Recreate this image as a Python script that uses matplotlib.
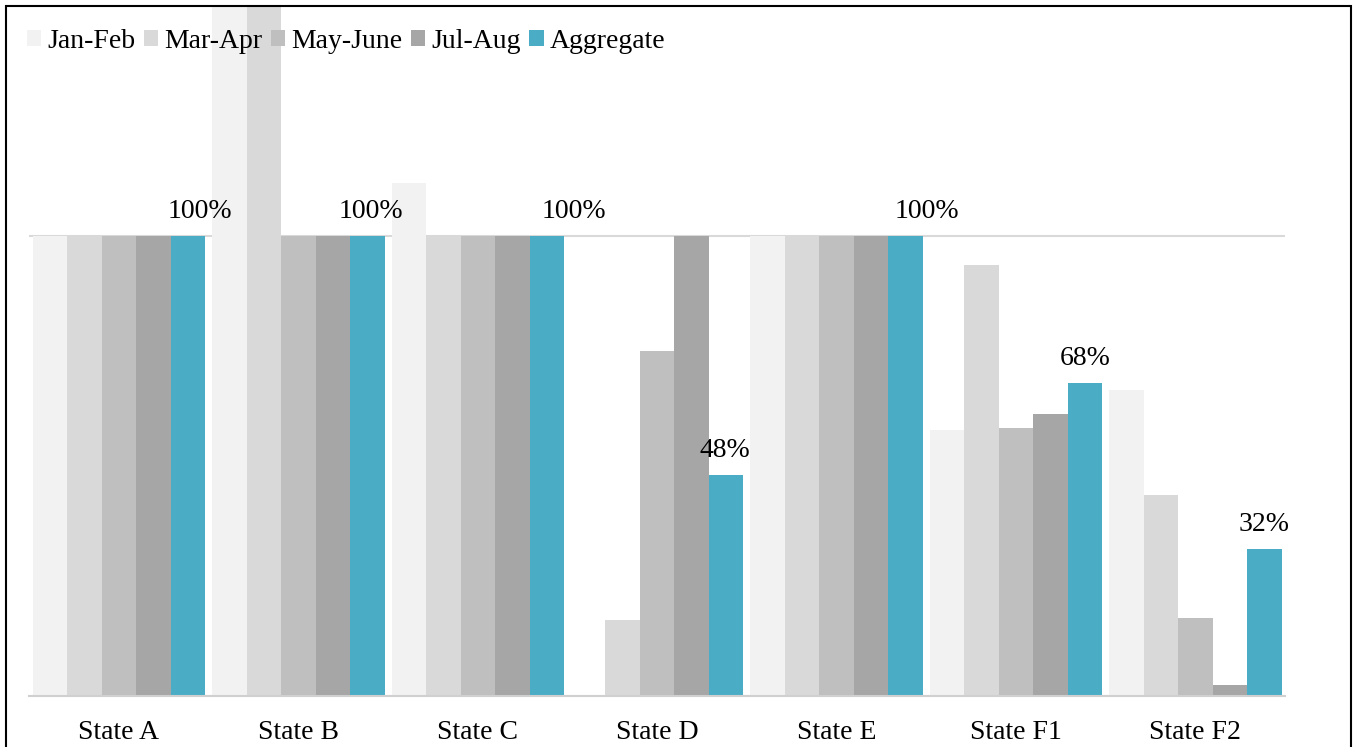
import matplotlib
matplotlib.use("Agg")
import matplotlib.pyplot as plt
from matplotlib.patches import Rectangle, Patch
import numpy as np

# Share of each state's target reached per two-month period
states = ["State A", "State B", "State C", "State D", "State E", "State F1", "State F2"]
periods = ["Jan-Feb", "Mar-Apr", "May-June", "Jul-Aug", "Aggregate"]

jan_feb = [1.00, 1.60, 1.115, 0.00, 1.00, 0.579, 0.665]
mar_apr = [1.00, 1.60, 1.00, 0.165, 1.00, 0.937, 0.436]
may_june = [1.00, 1.00, 1.00, 0.75, 1.00, 0.582, 0.169]
jul_aug = [1.00, 1.00, 1.00, 1.00, 1.00, 0.614, 0.024]
aggregate = [1.00, 1.00, 1.00, 0.48, 1.00, 0.68, 0.32]

series = [jan_feb, mar_apr, may_june, jul_aug, aggregate]
colors = ["#f2f2f2", "#d9d9d9", "#bfbfbf", "#a6a6a6", "#4bacc6"]

# horizontal nudges (pixels) for the aggregate value labels
label_nudge_px = [12, 4, 27, -1, 21, 0, 0]

plt.rcParams["font.family"] = ["Liberation Serif", "DejaVu Serif"]
FS = 20

W, H = 1353, 747
fig = plt.figure(figsize=(W / 100, H / 100), dpi=100)
ax = fig.add_axes([29.3 / W, 1 - 696 / H, 1255.8 / W, 690 / H])

x = np.arange(len(states))
bw = 0.1923
for i, (vals, col, name) in enumerate(zip(series, colors, periods)):
    ax.bar(x + (i - 2) * bw, vals, width=bw, color=col, edgecolor="none",
           label=name, zorder=2)

# value labels above the aggregate bars
for xi, v, dx in zip(x, aggregate, label_nudge_px):
    ax.annotate(f"{v:.0%}", xy=(xi + 2 * bw, v), xytext=(dx, 18),
                textcoords="offset pixels", ha="center", va="baseline",
                fontsize=FS, color="black")

ax.set_xlim(-0.5, len(states) - 0.5)
ax.set_ylim(0, 1.5)
ax.set_xticks(x)
ax.set_xticklabels(states, fontsize=FS)
ax.set_yticks([0, 1])
ax.set_yticklabels([])
ax.tick_params(axis="both", length=0)
ax.tick_params(axis="x", pad=17)
ax.yaxis.grid(True, color="#d9d9d9", linewidth=1.5, zorder=0)
ax.set_axisbelow(True)
for side in ["left", "right", "top"]:
    ax.spines[side].set_visible(False)
ax.spines["bottom"].set_color("#d0d0d0")
ax.spines["bottom"].set_linewidth(1.5)

handles = [Patch(facecolor=c, edgecolor="none", label=n) for c, n in zip(colors, periods)]
ax.legend(handles=handles, loc="upper left", bbox_to_anchor=(27 / W, 1 - 29 / H),
          bbox_transform=fig.transFigure, ncol=5, frameon=False, fontsize=FS,
          borderpad=0, borderaxespad=0, handlelength=0.52, handleheight=0.52,
          handletextpad=0.22, columnspacing=0.3)

# outer frame
fig.patches.append(Rectangle((6 / W, -0.05), (1351 - 6) / W, 1 - 6 / H + 0.05,
                             transform=fig.transFigure, fill=False,
                             edgecolor="black", linewidth=1.5, zorder=10))

fig.savefig("out.png", dpi=100)
